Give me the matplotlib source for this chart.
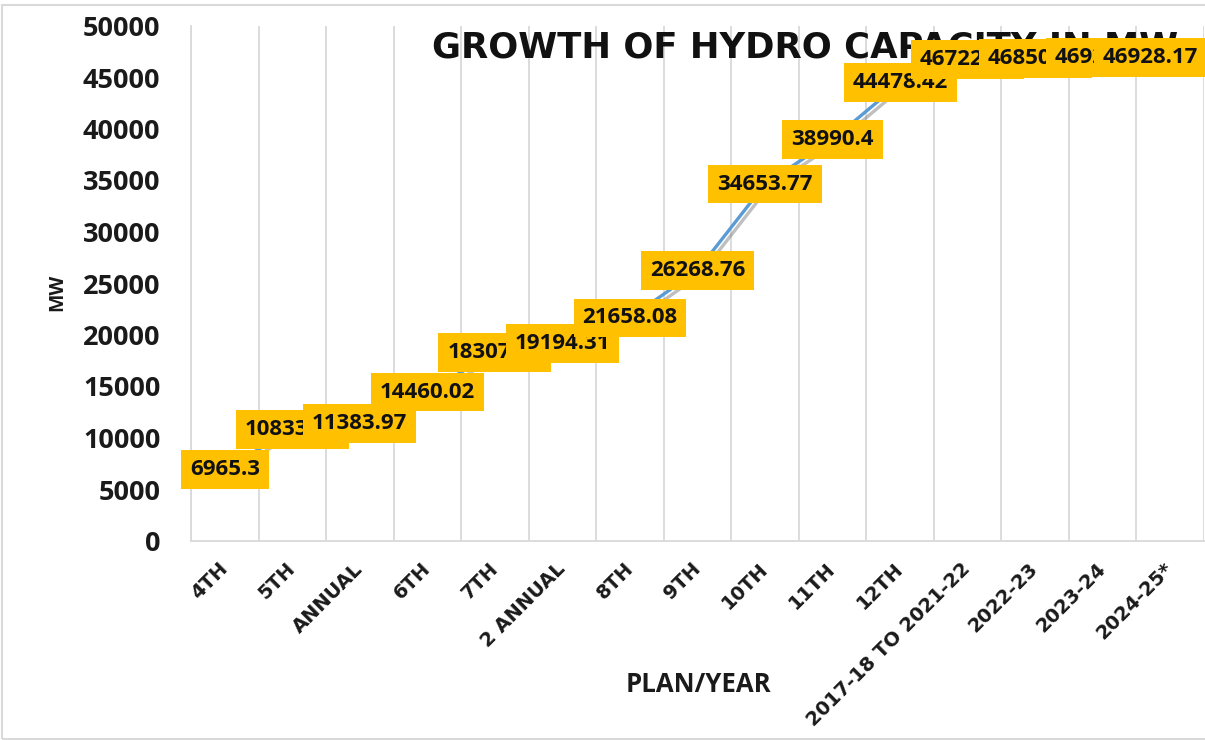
import matplotlib.pyplot as plt
from matplotlib.patches import Rectangle
import matplotlib.patheffects as pe

## data
plans = ['4TH', '5TH', 'ANNUAL', '6TH', '7TH', '2 ANNUAL', '8TH', '9TH', '10TH',
         '11TH', '12TH', '2017-18 TO 2021-22', '2022-23', '2023-24', '2024-25*']
capacity = [6965.3, 10833.31, 11383.97, 14460.02, 18307.63, 19194.31, 21658.08,
            26268.76, 34653.77, 38990.4, 44478.42, 46722.52, 46850.17, 46928.17,
            46928.17]
y_ticks = list(range(0, 50001, 5000))

FONT = 'Open Sans'
DARK = '#1a1a1a'

fig = plt.figure(figsize=(12.05, 7.4), dpi=100)
ax = fig.add_axes([191 / 1205, 1 - 541 / 740, 1013 / 1205, 515 / 740])

x = list(range(len(plans)))

# line + soft shadow
ax.plot(x, capacity, color='#5B9BD5', lw=2.4, zorder=3,
        path_effects=[pe.SimpleLineShadow(offset=(2, -3), shadow_color='#808080', alpha=0.5),
                      pe.Normal()])

# data labels, later ones drawn on top; the last one is nudged inside the chart like Excel does
for i, v in enumerate(capacity):
    lab = f'{v:.2f}'.rstrip('0').rstrip('.')
    dx = -20 if i == len(capacity) - 1 else 0
    ax.annotate(lab, (i, v), xytext=(dx, 0), textcoords='offset pixels',
                ha='center', va='center',
                fontsize=16, fontweight='bold', family=FONT, color='#111111',
                bbox=dict(boxstyle='square,pad=0.4', fc='#FFC000', ec='none'),
                zorder=10 + i, annotation_clip=False)

# title sits under the labels
ax.text(805 / 1205, 1 - 47 / 740, 'GROWTH OF HYDRO CAPACITY IN MW', transform=fig.transFigure,
        ha='center', va='center', fontsize=25.5, fontweight='bold', family='DejaVu Sans',
        color='#111111', zorder=4, clip_on=False)

ax.set_xlim(-0.5, len(plans) - 0.5)
ax.set_ylim(0, 50000)
ax.set_yticks(y_ticks)
ax.set_yticklabels([str(t) for t in y_ticks], fontsize=19.5, fontweight='bold',
                   family=FONT, color=DARK)
ax.tick_params(axis='y', length=0, pad=22)

ax.set_xticks(x)
ax.set_xticklabels(plans, rotation=45, ha='right', va='center', rotation_mode='anchor',
                   fontsize=14, fontweight='bold', family='DejaVu Sans', color=DARK)
ax.tick_params(axis='x', length=0, pad=18)

# vertical gridlines between categories
ax.set_xticks([i - 0.5 for i in range(len(plans) + 1)], minor=True)
ax.tick_params(axis='x', which='minor', length=0)
ax.grid(True, axis='x', which='minor', color='#D9D9D9', lw=1.3)
ax.grid(False, axis='x', which='major')
ax.set_axisbelow(True)

for s in ['top', 'right']:
    ax.spines[s].set_visible(False)
for s in ['left', 'bottom']:
    ax.spines[s].set_color('#D9D9D9')
    ax.spines[s].set_linewidth(1.3)

fig.text(57 / 1205, 1 - 292 / 740, 'MW', rotation=90, ha='center', va='center',
         fontsize=14, fontweight='bold', family=FONT, color=DARK)
fig.text(698 / 1205, 1 - 685 / 740, 'PLAN/YEAR', ha='center', va='center',
         fontsize=18.5, fontweight='bold', family=FONT, color=DARK)

# chart border
fig.patches.append(Rectangle((2 / 1205, 1 / 740), 1.2, 1 - 6 / 740, transform=fig.transFigure,
                             fill=False, ec='#D9D9D9', lw=1.5))

fig.savefig('out.png', dpi=100)
